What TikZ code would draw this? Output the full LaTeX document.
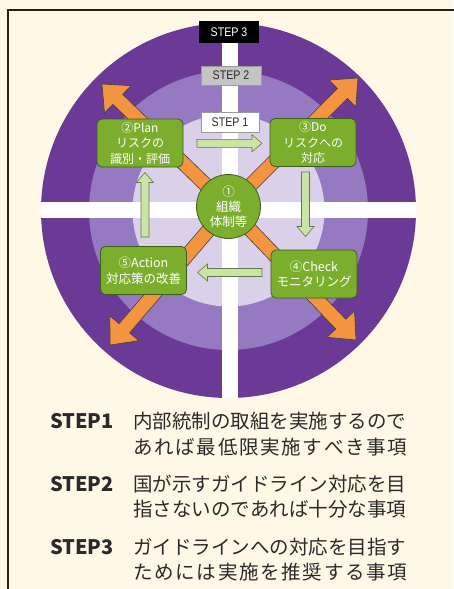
\documentclass[tikz,border=0pt]{standalone}
\usepackage{fontspec}
\usepackage{graphicx}
\usetikzlibrary{calc}
\newfontfamily\jp{Noto Sans CJK JP}
\newfontfamily\lsans{Liberation Sans}
\definecolor{bgc}{HTML}{FFF8E6}
\definecolor{frm}{HTML}{2B1F14}
\definecolor{purpout}{HTML}{6B3A97}
\definecolor{purpmid}{HTML}{9579C1}
\definecolor{purpin}{HTML}{DAD0E9}
\definecolor{grn}{HTML}{7BAE2C}
\definecolor{grnd}{HTML}{3F5E1C}
\definecolor{orng}{HTML}{F39440}
\definecolor{lgrn}{HTML}{CBE3A5}
\definecolor{lgrnd}{HTML}{5E7A45}
\definecolor{txt}{HTML}{2A2A2A}
\definecolor{lbl}{HTML}{C4C4C4}
\newcommand\oarrow[2]{%
  \path ($(#2)!22pt!(#1)$) coordinate (hb);
  \filldraw[fill=orng, draw=black!75, line width=0.6pt]
    ($(#1)!7pt!90:(#2)$) -- ($(hb)!7pt!90:(#2)$) -- ($(hb)!19pt!90:(#2)$) -- (#2)
    -- ($(hb)!19pt!-90:(#2)$) -- ($(hb)!7pt!-90:(#2)$) -- ($(#1)!7pt!-90:(#2)$) -- cycle;
}
\newcommand\garrow[2]{%
  \path ($(#2)!10pt!(#1)$) coordinate (gb);
  \filldraw[fill=lgrn, draw=lgrnd, line width=0.6pt]
    ($(#1)!4pt!90:(#2)$) -- ($(gb)!4pt!90:(#2)$) -- ($(gb)!8.5pt!90:(#2)$) -- (#2)
    -- ($(gb)!8.5pt!-90:(#2)$) -- ($(gb)!4pt!-90:(#2)$) -- ($(#1)!4pt!-90:(#2)$) -- cycle;
}
\begin{document}
\begin{tikzpicture}[x=1pt,y=-1pt,
  gbox/.style={rounded corners=5pt, fill=grn, draw=grnd, line width=0.8pt, text=white,
    align=center, font=\jp\fontsize{12}{15.5}\selectfont, minimum width=86pt, minimum height=48pt, inner sep=1pt},
  steplbl/.style={minimum width=60pt, minimum height=20pt, inner sep=0pt,
    font=\lsans\fontsize{12.5}{14}\selectfont},
  desc/.style={anchor=west, inner sep=0pt, text=txt, font=\jp\fontsize{19.5}{22}\selectfont},
  stephead/.style={anchor=west, inner sep=0pt, text=txt, font=\jp\bfseries\fontsize{20}{22}\selectfont}]
\useasboundingbox (0,0) rectangle (453,589);
\fill[bgc] (0,0) rectangle (453,589);
\draw[frm, line width=1.6pt] (7.7,620) -- (7.7,10) -- (470,10);
% rings
\coordinate (c) at (228.5,210.5);
\fill[purpout] (c) circle (187.5);
\fill[purpmid] (c) circle (139.5);
\fill[purpin] (c) circle (96);
\begin{scope}
  \clip (c) circle (187.5);
  \fill[white] (222,0) rectangle (238,600);
  \fill[white] (0,202) rectangle (500,218);
\end{scope}
% orange arrows
\coordinate (o) at (228.5,207);
\coordinate (tnw) at (102,84);
\coordinate (tne) at (358,78);
\coordinate (tse) at (356,340);
\coordinate (tsw) at (110,345);
\oarrow{o}{tnw}
\oarrow{o}{tne}
\oarrow{o}{tse}
\oarrow{o}{tsw}
% step labels
\node[steplbl, fill=black, text=white, minimum height=22pt] (s3) at (229,32) {\scalebox{0.85}[1]{STEP 3}};
\node[steplbl, fill=lbl, draw=gray!80, text=txt, minimum height=19pt] (s2) at (231,75.5) {\scalebox{0.85}[1]{STEP 2}};
\node[steplbl, fill=white, draw=gray!80, text=txt, minimum width=58pt] (s1) at (230,122) {\scalebox{0.85}[1]{STEP 1}};
% boxes
\node[gbox] (plan) at (140,143) {②Plan\\リスクの\\識別・評価};
\node[gbox] (do) at (313,142.5) {③Do\\リスクへの\\対応};
\node[gbox, font=\jp\fontsize{12.5}{16}\selectfont] (act) at (143.5,270.5) {⑤Action\\対応策の改善};
\node[gbox, font=\jp\fontsize{12.5}{15}\selectfont] (chk) at (314,274) {④Check\\モニタリング};
\node[circle, fill=grn, draw=grnd, line width=0.8pt, minimum size=64pt, inner sep=0pt,
  text=white, align=center, font=\jp\fontsize{12.5}{15}\selectfont] (core) at (228.5,206.5) {①\\組織\\体制等};
% green arrows
\coordinate (a1s) at (197,143.3); \coordinate (a1e) at (262,143.3);
\coordinate (a2s) at (305.5,172); \coordinate (a2e) at (305.5,236.5);
\coordinate (a3s) at (262,272.5); \coordinate (a3e) at (197.5,272.5);
\coordinate (a4s) at (145,237); \coordinate (a4e) at (145,172.5);
\garrow{a1s}{a1e}
\garrow{a2s}{a2e}
\garrow{a3s}{a3e}
\garrow{a4s}{a4e}
% legend
\node[stephead] (h1) at (50,421) {STEP1};
\node[stephead] (h2) at (50,484) {STEP2};
\node[stephead] (h3) at (50,547) {STEP3};
\node[desc] (d1a) at (133,421) {\makebox[274pt][s]{内部統制の取組を実施するので}};
\node[desc] (d1b) at (133,447) {\makebox[274pt][s]{あ\hfill れ\hfill ば\hfill 最\hfill 低\hfill 限\hfill 実\hfill 施\hfill す\hfill べ\hfill き\hfill 事\hfill 項}};
\node[desc] (d2a) at (133,484) {\makebox[274pt][s]{国が示すガイドライン対応を目}};
\node[desc] (d2b) at (133,509) {\makebox[274pt][s]{指さないのであれば十分な事項}};
\node[desc] (d3a) at (133,547) {\makebox[274pt][s]{ガイドラインへの対応を目指す}};
\node[desc] (d3b) at (133,572) {\makebox[274pt][s]{た\hfill め\hfill に\hfill は\hfill 実\hfill 施\hfill を\hfill 推\hfill 奨\hfill す\hfill る\hfill 事\hfill 項}};
\end{tikzpicture}
\end{document}
